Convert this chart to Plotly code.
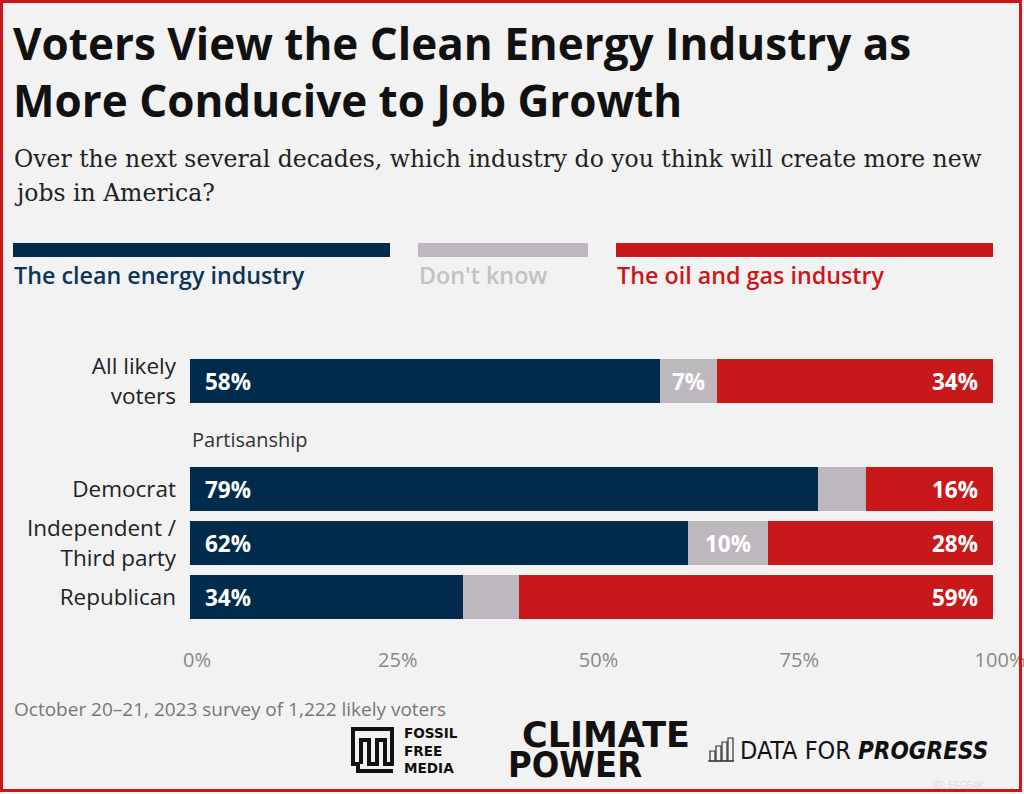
import plotly.graph_objects as go

# ---------------- data ----------------
categories = ["All likely<br>voters", "Democrat", "Independent /<br>Third party", "Republican"]
cat_pos = [0, 2, 3, 4]
clean_energy = [58, 79, 62, 34]
dont_know = [7, 6, 10, 7]
oil_gas = [34, 16, 28, 59]
clean_lbl = ["58%", "79%", "62%", "34%"]
dk_lbl = ["7%", "", "10%", ""]
oil_lbl = ["34%", "16%", "28%", "59%"]
x_ticks = [0, 25, 50, 75, 100]
x_ticktext = ["0%", "25%", "50%", "75%", "100%"]

BLUE = "#002b4c"
GRAY = "#bdb8be"
RED = "#c9181a"
BG = "#f2f2f2"
SANS = "'Open Sans', Lato, sans-serif"

# normalise each row to 100
tot = [a + b + c for a, b, c in zip(clean_energy, dont_know, oil_gas)]
ce_n = [a / t * 100 for a, t in zip(clean_energy, tot)]
dk_n = [a / t * 100 for a, t in zip(dont_know, tot)]
og_n = [a / t * 100 for a, t in zip(oil_gas, tot)]

W, H = 1024, 794
L, R, T, B = 190, 31, 354, 150
WP, HP = W - L - R, H - T - B


def fx(px):
    return (px - L) / WP


def fy(py):
    return (H - B - py) / HP


fig = go.Figure()
for vals, col, name in [(ce_n, BLUE, "The clean energy industry"),
                        (dk_n, GRAY, "Don't know"),
                        (og_n, RED, "The oil and gas industry")]:
    fig.add_trace(go.Bar(x=vals, y=cat_pos, orientation="h", width=0.8,
                         marker=dict(color=col, line=dict(width=0)),
                         name=name, showlegend=False, hoverinfo="skip"))

LBLF = dict(family=SANS, size=22.5, color="white", weight=700)
ann = []
for i, yv in enumerate(cat_pos):
    ann.append(dict(x=0, y=yv, xref="x", yref="y", text=clean_lbl[i], xanchor="left",
                    xshift=13, showarrow=False, font=LBLF))
    if dk_lbl[i]:
        ann.append(dict(x=ce_n[i] + dk_n[i] / 2, y=yv, xref="x", yref="y", text=dk_lbl[i],
                        xanchor="center", showarrow=False, font=LBLF))
    ann.append(dict(x=100, y=yv, xref="x", yref="y", text=oil_lbl[i], xanchor="right",
                    xshift=-13, showarrow=False, font=LBLF))

# Partisanship group label
ann.append(dict(x=0, y=1.08, xref="x", yref="y", text="Partisanship", xanchor="left",
                showarrow=False, font=dict(family=SANS, size=20, color="#333")))

# title / subtitle
ann.append(dict(x=fx(11), y=fy(11), xref="paper", yref="paper", xanchor="left", yanchor="top",
                align="left", showarrow=False,
                text="Voters View the Clean Energy Industry as<br>More Conducive to Job Growth",
                font=dict(family=SANS, size=44, color="#111", weight=700)))
SERIF = dict(family="'DejaVu Serif', serif", size=23.5, color="#222")
ann.append(dict(x=fx(12), y=fy(159), xref="paper", yref="paper", xanchor="left", yanchor="middle",
                align="left", showarrow=False,
                text="Over the next several decades, which industry do you think will create more new",
                font=SERIF))
ann.append(dict(x=fx(12), y=fy(193), xref="paper", yref="paper", xanchor="left", yanchor="middle",
                align="left", showarrow=False, text="jobs in America?", font=SERIF))

# legend
leg = [(13, 390, BLUE, "The clean energy industry", "#0c3557"),
       (418, 588, GRAY, "Don't know", "#c4c0c4"),
       (616, 993, RED, "The oil and gas industry", "#c9181a")]
shapes = []
for x0, x1, col, lab, tcol in leg:
    shapes.append(dict(type="rect", xref="paper", yref="paper", x0=fx(x0), x1=fx(x1),
                       y0=fy(257), y1=fy(243), fillcolor=col, line=dict(width=0), layer="above"))
    ann.append(dict(x=fx(x0 - 1), y=fy(275), xref="paper", yref="paper", xanchor="left", yanchor="middle",
                    showarrow=False, text=lab, font=dict(family=SANS, size=23.3, color=tcol, weight=600)))

# footer note
ann.append(dict(x=fx(12), y=fy(709), xref="paper", yref="paper", xanchor="left", yanchor="middle",
                showarrow=False, text="October 20\u201321, 2023 survey of 1,222 likely voters",
                font=dict(family=SANS, size=19, color="#777")))

# logos (text)
ann.append(dict(x=fx(402), y=fy(750), xref="paper", yref="paper", xanchor="left", yanchor="middle",
                align="left", showarrow=False,
                text="FOSSIL<br>FREE<br>MEDIA",
                font=dict(family="'DejaVu Sans', sans-serif", size=13.6, color="#111", weight=700)))
ann.append(dict(x=fx(506), y=fy(750), xref="paper", yref="paper", xanchor="left", yanchor="middle",
                align="left", showarrow=False,
                text="<span style='font-size:35px'>\u2009\u2009CLIMATE</span><br>"
                     "<span style='font-size:36px;font-family:DejaVu Sans Condensed'>POWER</span>",
                font=dict(family="'DejaVu Sans', sans-serif", size=23, color="#111", weight=700)))
ann.append(dict(x=fx(738), y=fy(750), xref="paper", yref="paper", xanchor="left", yanchor="middle",
                showarrow=False,
                text="DATA FOR <span style='font-size:24px'><b><i>PROGRESS</i></b></span>",
                font=dict(family="'DejaVu Sans Condensed', sans-serif", size=25, color="#111")))
ann.append(dict(x=fx(987), y=fy(785), xref="paper", yref="paper", xanchor="right", yanchor="middle",
                showarrow=False, text="ID: EFG64K",
                font=dict(family=SANS, size=10, color="#dcdcdc")))


# Fossil Free Media icon (meander)
def pth(points):
    return "M " + " L ".join(f"{fx(a)},{fy(b)}" for a, b in points)


ffm = [(393, 771), (358, 771), (358, 764), (353, 764), (353, 729), (392, 729), (392, 764),
       (385, 764), (385, 740), (377, 740), (377, 764), (369, 764), (369, 740), (361, 740), (361, 764)]
shapes.append(dict(type="path", xref="paper", yref="paper", path=pth(ffm),
                   line=dict(color="#111", width=4)))
# Data for Progress icon (bar outlines)
for bx0, bx1, by0 in [(710, 715, 751), (716, 721, 746), (722, 727, 742), (728, 733, 738)]:
    shapes.append(dict(type="rect", xref="paper", yref="paper", x0=fx(bx0), x1=fx(bx1),
                       y0=fy(761), y1=fy(by0), line=dict(color="#333", width=1.2)))
shapes.append(dict(type="line", xref="paper", yref="paper", x0=fx(708), x1=fx(734),
                   y0=fy(761), y1=fy(761), line=dict(color="#333", width=1.2)))

# red border
shapes.append(dict(type="rect", xref="paper", yref="paper", x0=fx(1.5), x1=fx(1020.5),
                   y0=fy(790.5), y1=fy(1.5), line=dict(color="#c9181a", width=3)))

fig.update_layout(
    width=W, height=H, barmode="stack", bargap=0,
    paper_bgcolor=BG, plot_bgcolor=BG,
    margin=dict(l=L, r=R, t=T, b=B, autoexpand=False),
    annotations=ann, shapes=shapes,
    xaxis=dict(range=[0, 100], tickvals=x_ticks, ticktext=x_ticktext, showgrid=False,
               zeroline=False, showline=False, ticks="", ticklabelstandoff=2, ticklabelshift=7,
               ticklabeloverflow="allow",
               tickfont=dict(family=SANS, size=20, color="#888"), fixedrange=True),
    yaxis=dict(range=[4.87, -0.5], tickvals=cat_pos, ticktext=categories, showgrid=False,
               zeroline=False, showline=False, ticks="", ticklabelstandoff=13,
               tickfont=dict(family=SANS, size=22.5, color="#222"), fixedrange=True),
)

fig.write_html("out.html", config={"displayModeBar": False},
               post_script="document.body.style.margin='0';document.body.style.overflow='hidden';")
